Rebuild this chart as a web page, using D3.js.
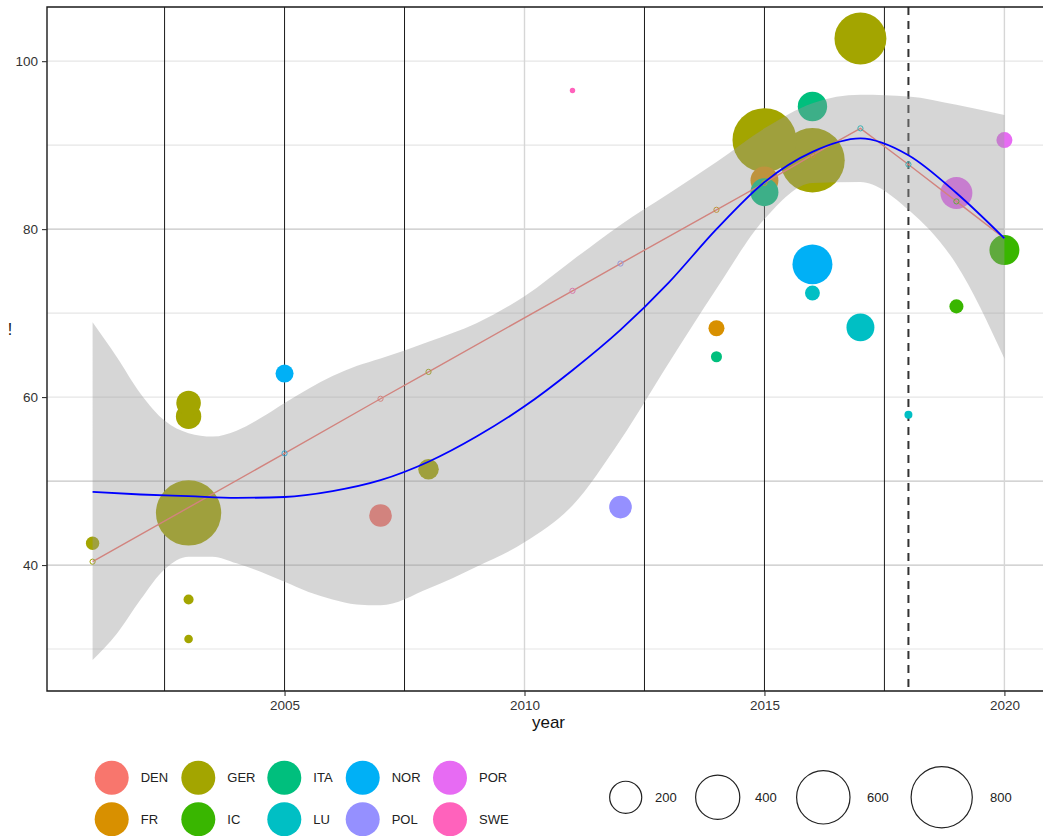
<!DOCTYPE html>
<html><head><meta charset="utf-8">
<script src="https://cdn.jsdelivr.net/npm/d3@7"></script>
<style>body{margin:0;background:#fff} svg{display:block;font-family:"Liberation Sans",Arial,sans-serif}</style>
</head><body><svg id="chart" width="1043" height="836"></svg>
<script>
// ---------- data ----------
const countries = ["DEN","FR","GER","IC","ITA","LU","NOR","POL","POR","SWE"];
const countryColors = ["#F8766D","#D89000","#A3A500","#39B600","#00BF7D","#00BFC4","#00B0F6","#9590FF","#E76BF3","#FF62BC"];

const bubbleYear    = [2001,2003,2003,2003,2003,2003,2005,2008,2007,2011,2012,2014,2014,2015,2015,2015,2016,2016,2016,2016,2017,2017,2018,2019,2019,2020,2020];
const bubbleValue   = [42.6,59.3,57.7,46.2,35.9,31.2,62.8,51.4,45.9,96.5,46.9,68.2,64.8,90.6,85.8,84.4,94.6,88.2,75.8,72.4,102.7,68.3,57.9,84.3,70.8,90.6,77.5];
const bubbleCountry = ["GER","GER","GER","GER","GER","GER","NOR","GER","DEN","SWE","POL","FR","ITA","GER","FR","ITA","ITA","GER","NOR","LU","GER","LU","LU","POR","IC","POR","IC"];
const bubbleSize    = [20,98,106,882,8,4.6,45,63,80,0.35,80,33,11,843,133,133,150,860,302,27,538,133,3.4,182,23,33,157];

const trendYear    = [2001,2005,2007,2008,2011,2012,2014,2015,2016,2017,2018,2019,2020];
const trendValue   = [40.4,53.3,59.8,63.0,72.65,75.9,82.3,85.5,88.8,92.0,87.7,83.3,78.9];
const trendCountry = ["GER","NOR","DEN","GER","SWE","POL","FR","FR","FR","LU","LU","IC","IC"];

const smoothYear = [2001,2002,2003,2004,2005,2006,2007,2008,2009,2010,2011,2012,2013,2014,2015,2016,2017,2018,2019,2020];
const smoothFit  = [48.7,48.4,48.2,48.0,48.1,48.8,50.1,52.3,55.3,58.9,63.2,68.0,73.6,80.0,85.6,89.2,90.8,88.8,84.3,78.9];

const ribbonYear = [2001,2001.5,2002,2002.5,2003,2003.5,2004,2004.5,2005,2005.5,2006,2006.5,2007,2008,2009,2010,2011,2012,2013,2014,2015,2016,2017,2018,2019,2020];
const ribbonHigh = [68.9,64.8,60.4,57.2,55.7,55.3,56.0,57.5,59.3,61.0,62.5,63.7,64.6,66.6,68.8,72.0,76.3,80.5,84.2,88.0,92.0,95.0,96.0,95.8,94.8,93.6];
const ribbonLow  = [28.7,31.8,35.9,39.5,41.0,41.0,40.2,39.2,38.0,36.8,35.9,35.3,35.2,37.2,39.8,42.7,47.1,54.9,64.0,72.9,81.2,85.5,85.6,82.3,75.8,64.6];

const xTicks = [2005,2010,2015,2020];
const yTicks = [40,60,80,100];
const yMinor = [30,50,70,90];
const sizeBreaks = [200,400,600,800];
const markYears = [2002.5,2005,2007.5,2012.5,2015,2017.5];
const dashedYear = 2018;

// ---------- layout ----------
const svg = d3.select("#chart");
const L = 47, R = 1050, T = 7, B = 691;
const x = d3.scaleLinear().domain([2000.05, 2020.95]).range([L, R]);
const y = d3.scaleLinear().domain([25, 106.45]).range([B, T]);
const color = d3.scaleOrdinal().domain(countries).range(countryColors);
const size = d3.scaleSqrt().domain([0, 800]).range([2.1, 31.2]);

const g = svg.append("g");

// grid
const darkH = new Set([80,50,40]);
g.selectAll(".hg").data(yTicks.concat(yMinor)).join("line")
  .attr("x1", L).attr("x2", R).attr("y1", d => y(d)).attr("y2", d => y(d))
  .attr("stroke", d => darkH.has(d) ? "#c6c6c6" : "#e6e6e6").attr("stroke-width", 1.2);
g.selectAll(".vg").data([2010,2020]).join("line")
  .attr("x1", d => x(d)).attr("x2", d => x(d)).attr("y1", T).attr("y2", B)
  .attr("stroke", "#d6d6d6").attr("stroke-width", 1.4);
g.selectAll(".vm").data(markYears).join("line")
  .attr("x1", d => x(d)).attr("x2", d => x(d)).attr("y1", T).attr("y2", B)
  .attr("stroke", "#1a1a1a").attr("stroke-width", 1);
g.append("line").attr("x1", x(dashedYear)).attr("x2", x(dashedYear)).attr("y1", T).attr("y2", B)
  .attr("stroke", "#333").attr("stroke-width", 2).attr("stroke-dasharray", "8,6");

// bubbles (largest first)
const bubbles = bubbleYear.map((yr, i) => ({yr, v: bubbleValue[i], c: bubbleCountry[i], s: bubbleSize[i], i}))
  .sort((a, b) => b.s - a.s || a.i - b.i);
g.selectAll(".bub").data(bubbles).join("circle")
  .attr("cx", d => x(d.yr)).attr("cy", d => y(d.v)).attr("r", d => size(d.s))
  .attr("fill", d => color(d.c));

// trend line + hollow points
const trend = trendYear.map((yr, i) => ({yr, v: trendValue[i], c: trendCountry[i]}));
g.append("path").datum(trend)
  .attr("d", d3.line().x(d => x(d.yr)).y(d => y(d.v)))
  .attr("fill", "none").attr("stroke", "#F8766D").attr("stroke-width", 1.4);
g.selectAll(".tp").data(trend).join("circle")
  .attr("cx", d => x(d.yr)).attr("cy", d => y(d.v)).attr("r", 2.6)
  .attr("fill", "none").attr("stroke", d => color(d.c)).attr("stroke-width", 1);

// ribbon
const rib = ribbonYear.map((yr, i) => ({yr, lo: ribbonLow[i], hi: ribbonHigh[i]}));
g.append("path").datum(rib)
  .attr("d", d3.area().curve(d3.curveMonotoneX).x(d => x(d.yr)).y0(d => y(d.lo)).y1(d => y(d.hi)))
  .attr("fill", "#999999").attr("fill-opacity", 0.4);

// smooth line
const sm = smoothYear.map((yr, i) => ({yr, v: smoothFit[i]}));
g.append("path").datum(sm)
  .attr("d", d3.line().curve(d3.curveMonotoneX).x(d => x(d.yr)).y(d => y(d.v)))
  .attr("fill", "none").attr("stroke", "#0000FF").attr("stroke-width", 1.8);

// panel border
g.append("path").attr("d", `M${R + 2},${T} H${L} V${B} H${R + 2}`)
  .attr("fill", "none").attr("stroke", "#1a1a1a").attr("stroke-width", 1.4);

// axes
const xAxis = svg.append("g").attr("transform", `translate(0,${B})`)
  .call(d3.axisBottom(x).tickValues(xTicks).tickFormat(d3.format("d")).tickSize(5).tickPadding(4));
const yAxis = svg.append("g").attr("transform", `translate(${L},0)`)
  .call(d3.axisLeft(y).tickValues(yTicks).tickSize(5).tickPadding(4));
[xAxis, yAxis].forEach(a => {
  a.select(".domain").remove();
  a.selectAll("line").attr("stroke", "#333").attr("stroke-width", 1.1);
  a.selectAll("text").attr("fill", "#333").attr("font-size", 13.5).attr("font-family", '"Liberation Sans",Arial,sans-serif');
});

svg.append("text").attr("x", (L + R) / 2).attr("y", 728).attr("text-anchor", "middle")
  .attr("font-size", 17).attr("fill", "#111").text("year");
svg.append("text").attr("x", 10).attr("y", 335).attr("text-anchor", "middle")
  .attr("font-size", 16).attr("fill", "#111").text("!");

// colour legend (2 rows, column-major)
const colX = [111.7, 198.3, 284.3, 362.7, 450];
const rowY = [777.7, 819.3];
const leg = svg.append("g");
countries.forEach((c, i) => {
  const cx = colX[Math.floor(i / 2)], cy = rowY[i % 2];
  leg.append("circle").attr("cx", cx).attr("cy", cy).attr("r", 17).attr("fill", color(c));
  leg.append("text").attr("x", cx + 29).attr("y", cy).attr("dy", "0.35em")
    .attr("font-size", 13).attr("fill", "#222").text(c);
});

// size legend
const sizeX = [625.7, 717.7, 823.3, 941.7];
const sizeLabelX = [655, 755, 867, 990];
sizeBreaks.forEach((b, i) => {
  leg.append("circle").attr("cx", sizeX[i]).attr("cy", 797.3).attr("r", size(b) - 0.6)
    .attr("fill", "none").attr("stroke", "#222").attr("stroke-width", 1.2);
  leg.append("text").attr("x", sizeLabelX[i]).attr("y", 797.3).attr("dy", "0.35em")
    .attr("font-size", 13).attr("fill", "#222").text(b);
});
</script></body></html>
